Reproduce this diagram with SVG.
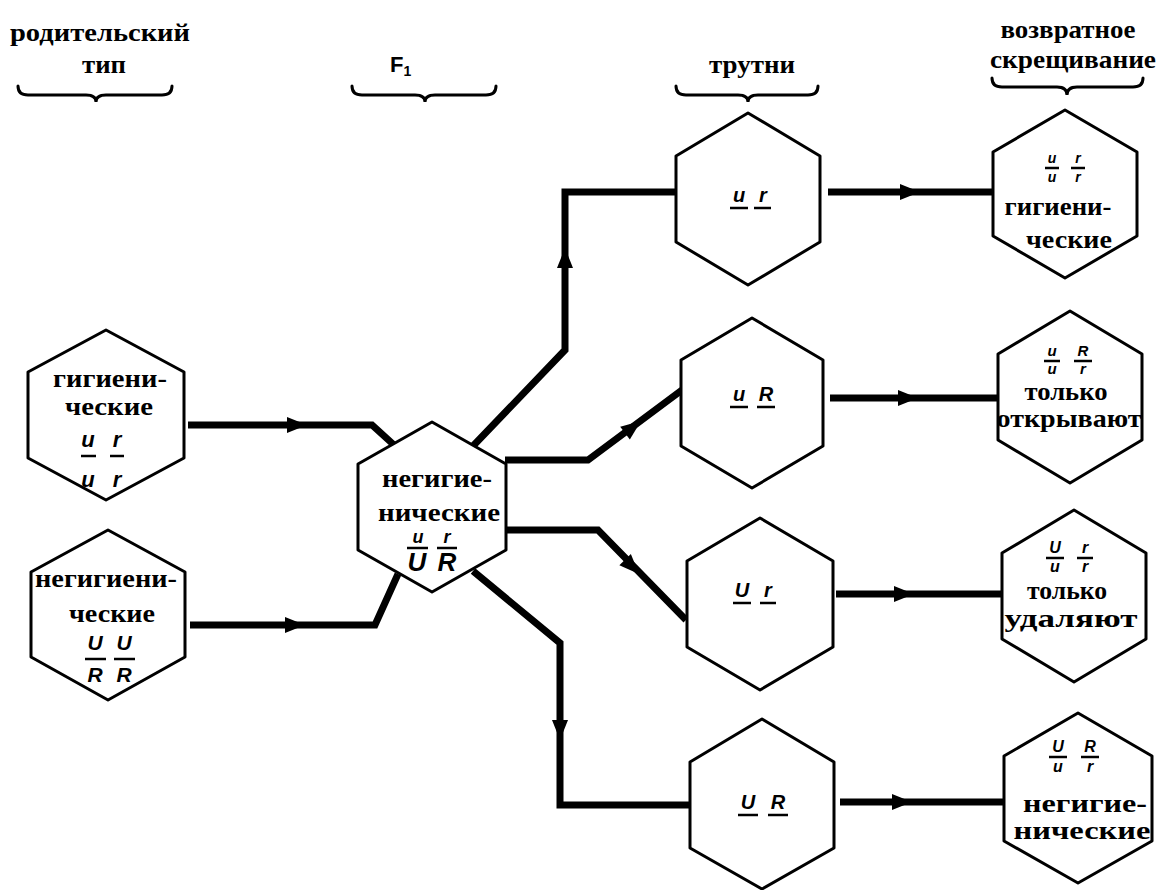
<svg xmlns="http://www.w3.org/2000/svg" width="1163" height="890" viewBox="0 0 1163 890">
<style>
.hex{fill:#fff;stroke:#000;stroke-width:3;stroke-linejoin:round}
.con{fill:none;stroke:#000;stroke-width:7;stroke-linejoin:miter}
.t{font-family:"Liberation Serif","DejaVu Serif",serif;font-weight:bold;font-size:25px;text-anchor:middle;fill:#000}
.g{font-family:"Liberation Sans",Arial,sans-serif;font-weight:bold;font-style:italic;text-anchor:middle;fill:#000}
.s{font-family:"Liberation Sans",Arial,sans-serif;font-weight:bold;fill:#000}
.bar{stroke:#000;stroke-width:2.5}
.brace{fill:none;stroke:#000;stroke-width:3;stroke-linecap:round}
</style>
<defs>
<path id="ah" d="M0,0 L-20,-8 L-20,8 Z" fill="#000"/>
</defs>
<rect width="1163" height="890" fill="#fff"/>

<g id="headers">
<text class="t" x="100" y="41" textLength="180" lengthAdjust="spacingAndGlyphs">родительский</text>
<text class="t" x="104" y="73" textLength="44" lengthAdjust="spacingAndGlyphs">тип</text>
<path class="brace" d="M18,86 Q18,95 28,95 H86 Q96,95 96,102 Q96,95 106,95 H162 Q172,95 172,86"/>
<text class="s" x="390" y="72" font-size="22">F<tspan font-size="14" dy="4">1</tspan></text>
<path class="brace" d="M352,86 Q352,95 362,95 H415 Q425,95 425,102 Q425,95 435,95 H486 Q496,95 496,86"/>
<text class="t" x="752" y="73" textLength="86" lengthAdjust="spacingAndGlyphs">трутни</text>
<path class="brace" d="M676,86 Q676,95 686,95 H738 Q748,95 748,102 Q748,95 758,95 H808 Q818,95 818,86"/>
<text class="t" x="1068" y="38" textLength="135" lengthAdjust="spacingAndGlyphs">возвратное</text>
<text class="t" x="1073" y="68" textLength="166" lengthAdjust="spacingAndGlyphs">скрещивание</text>
<path class="brace" d="M992,78 Q992,87 1002,87 H1057 Q1067,87 1067,95 Q1067,87 1077,87 H1133 Q1143,87 1143,78"/>
</g>

<g id="connectors">
<path class="con" d="M188,425 H372 L394,445"/>
<path class="con" d="M190,625 H375 L398,574"/>
<path class="con" d="M473,446 L565,350 V192 H676"/>
<path class="con" d="M505,460 H588 L682,390"/>
<path class="con" d="M505,530 H598 L686,620"/>
<path class="con" d="M473,571 L560,643 V805 H690"/>
<path class="con" d="M828,192 H993"/>
<path class="con" d="M830,398 H998"/>
<path class="con" d="M836,594 H1002"/>
<path class="con" d="M840,802 H1004"/>
<use href="#ah" transform="translate(307,425)"/>
<use href="#ah" transform="translate(305,625)"/>
<use href="#ah" transform="translate(565,248) rotate(-90)"/>
<use href="#ah" transform="translate(641,421) rotate(-37)"/>
<use href="#ah" transform="translate(639,574) rotate(46)"/>
<use href="#ah" transform="translate(560,740) rotate(90)"/>
<use href="#ah" transform="translate(920,192)"/>
<use href="#ah" transform="translate(918,398)"/>
<use href="#ah" transform="translate(914,594)"/>
<use href="#ah" transform="translate(912,802)"/>
</g>

<g id="parent-hygienic">
<polygon class="hex" points="106,330 184,372 184,458 106,500 28,458 28,372"/>
<text class="t" x="110" y="387" textLength="114" lengthAdjust="spacingAndGlyphs">гигиени-</text>
<text class="t" x="109" y="415" textLength="88" lengthAdjust="spacingAndGlyphs">ческие</text>
<text class="g" x="88" y="447" font-size="22">u</text>
<text class="g" x="117" y="447" font-size="22">r</text>
<line class="bar" x1="81" y1="456" x2="96" y2="456"/>
<line class="bar" x1="110" y1="456" x2="124" y2="456"/>
<text class="g" x="88" y="487" font-size="22">u</text>
<text class="g" x="117" y="487" font-size="22">r</text>
</g>

<g id="parent-nonhygienic">
<polygon class="hex" points="108,530 185,572 185,657 108,700 31,657 31,572"/>
<text class="t" x="106" y="587" textLength="142" lengthAdjust="spacingAndGlyphs">негигиени-</text>
<text class="t" x="112" y="622" textLength="86" lengthAdjust="spacingAndGlyphs">ческие</text>
<text class="g" x="95" y="650" font-size="21">U</text>
<text class="g" x="124" y="650" font-size="21">U</text>
<line class="bar" x1="85" y1="659" x2="106" y2="659"/>
<line class="bar" x1="114" y1="659" x2="135" y2="659"/>
<text class="g" x="95" y="682" font-size="21">R</text>
<text class="g" x="124" y="682" font-size="21">R</text>
</g>

<g id="f1">
<polygon class="hex" points="432,422 506,464 506,550 432,592 358,550 358,464"/>
<text class="t" x="437" y="487" textLength="110" lengthAdjust="spacingAndGlyphs">негигие-</text>
<text class="t" x="439" y="521" textLength="122" lengthAdjust="spacingAndGlyphs">нические</text>
<text class="g" x="418" y="543" font-size="18">u</text>
<text class="g" x="447" y="543" font-size="18">r</text>
<line class="bar" x1="407" y1="548" x2="428" y2="548"/>
<line class="bar" x1="437" y1="548" x2="457" y2="548"/>
<text class="g" x="417" y="571" font-size="26">U</text>
<text class="g" x="447" y="571" font-size="26">R</text>
</g>

<g id="drone-ur">
<polygon class="hex" points="748,113 820,156 820,242 748,285 676,242 676,156"/>
<text class="g" x="739" y="202" font-size="20">u</text>
<text class="g" x="763" y="202" font-size="20">r</text>
<line class="bar" x1="730" y1="208" x2="748" y2="208"/>
<line class="bar" x1="754" y1="208" x2="771" y2="208"/>
</g>

<g id="drone-uR">
<polygon class="hex" points="752,318 823,360 823,446 752,488 681,446 681,360"/>
<text class="g" x="739" y="401" font-size="20">u</text>
<text class="g" x="766" y="401" font-size="20">R</text>
<line class="bar" x1="730" y1="407" x2="748" y2="407"/>
<line class="bar" x1="757" y1="407" x2="775" y2="407"/>
</g>

<g id="drone-Ur">
<polygon class="hex" points="760,518 833,561 833,647 760,690 687,647 687,561"/>
<text class="g" x="742" y="597" font-size="20">U</text>
<text class="g" x="768" y="597" font-size="20">r</text>
<line class="bar" x1="733" y1="603" x2="751" y2="603"/>
<line class="bar" x1="760" y1="603" x2="776" y2="603"/>
</g>

<g id="drone-UR">
<polygon class="hex" points="762,719 834,762 834,848 762,889 690,848 690,762"/>
<text class="g" x="748" y="809" font-size="20">U</text>
<text class="g" x="778" y="809" font-size="20">R</text>
<line class="bar" x1="738" y1="815" x2="758" y2="815"/>
<line class="bar" x1="768" y1="815" x2="788" y2="815"/>
</g>

<g id="back-hygienic">
<polygon class="hex" points="1065,110 1137,152 1137,236 1065,278 993,236 993,152"/>
<text class="g" x="1052" y="163" font-size="14">u</text>
<text class="g" x="1078" y="163" font-size="14">r</text>
<line class="bar" x1="1045" y1="168" x2="1059" y2="168"/>
<line class="bar" x1="1071" y1="168" x2="1085" y2="168"/>
<text class="g" x="1052" y="182" font-size="14">u</text>
<text class="g" x="1078" y="182" font-size="14">r</text>
<text class="t" x="1058" y="215" font-size="24" textLength="107" lengthAdjust="spacingAndGlyphs">гигиени-</text>
<text class="t" x="1069" y="248" font-size="24" textLength="86" lengthAdjust="spacingAndGlyphs">ческие</text>
</g>

<g id="back-uncap">
<polygon class="hex" points="1070,311 1142,354 1142,440 1070,483 998,440 998,354"/>
<text class="g" x="1052" y="356" font-size="15">u</text>
<text class="g" x="1083" y="356" font-size="15">R</text>
<line class="bar" x1="1044" y1="361" x2="1060" y2="361"/>
<line class="bar" x1="1074" y1="361" x2="1092" y2="361"/>
<text class="g" x="1052" y="374" font-size="15">u</text>
<text class="g" x="1083" y="374" font-size="15">r</text>
<text class="t" x="1066" y="400" font-size="24" textLength="83" lengthAdjust="spacingAndGlyphs">только</text>
<text class="t" x="1069" y="427" font-size="24" textLength="145" lengthAdjust="spacingAndGlyphs">открывают</text>
</g>

<g id="back-remove">
<polygon class="hex" points="1074,510 1146,553 1146,639 1074,682 1002,639 1002,553"/>
<text class="g" x="1055" y="553" font-size="16">U</text>
<text class="g" x="1085" y="553" font-size="16">r</text>
<line class="bar" x1="1046" y1="558" x2="1064" y2="558"/>
<line class="bar" x1="1077" y1="558" x2="1093" y2="558"/>
<text class="g" x="1055" y="572" font-size="16">u</text>
<text class="g" x="1085" y="572" font-size="16">r</text>
<text class="t" x="1067" y="599" font-size="24" textLength="80" lengthAdjust="spacingAndGlyphs">только</text>
<text class="t" x="1071" y="627" font-size="24" textLength="133" lengthAdjust="spacingAndGlyphs">удаляют</text>
</g>

<g id="back-nonhygienic">
<polygon class="hex" points="1078,713 1152,756 1152,841 1078,883 1004,841 1004,756"/>
<text class="g" x="1058" y="752" font-size="16">U</text>
<text class="g" x="1090" y="752" font-size="16">R</text>
<line class="bar" x1="1049" y1="757" x2="1067" y2="757"/>
<line class="bar" x1="1081" y1="757" x2="1099" y2="757"/>
<text class="g" x="1058" y="772" font-size="16">u</text>
<text class="g" x="1090" y="772" font-size="16">r</text>
<text class="t" x="1085" y="812" font-size="24" textLength="124" lengthAdjust="spacingAndGlyphs">негигие-</text>
<text class="t" x="1082" y="839" font-size="24" textLength="137" lengthAdjust="spacingAndGlyphs">нические</text>
</g>
</svg>
